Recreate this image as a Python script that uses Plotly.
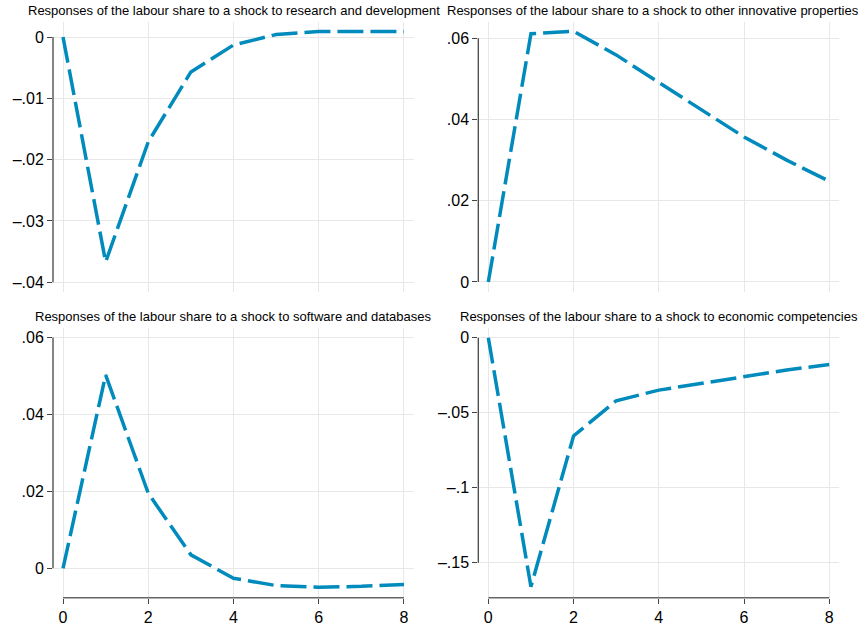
import plotly.graph_objects as go

# ---- data ----
horizon = [0, 1, 2, 3, 4, 5, 6, 7, 8]

rd_response = [0.0, -0.0367, -0.0171, -0.0057, -0.0013, 0.0004, 0.0009, 0.0009, 0.0009]
oip_response = [0.0, 0.0611, 0.0617, 0.0559, 0.0491, 0.0423, 0.0357, 0.0300, 0.0248]
sw_response = [0.0, 0.0503, 0.0195, 0.0035, -0.0026, -0.0045, -0.0049, -0.0047, -0.0042]
ec_response = [0.0, -0.166, -0.0655, -0.042, -0.0349, -0.0304, -0.026, -0.0215, -0.0178]

titles = [
    "Responses of the labour share to a shock to research and development",
    "Responses of the labour share to a shock to other innovative properties",
    "Responses of the labour share to a shock to software and databases",
    "Responses of the labour share to a shock to economic competencies",
]

x_ticks = [0, 2, 4, 6, 8]
x_ticktext = ["0", "2", "4", "6", "8"]

y_ticks = [
    [0, -0.01, -0.02, -0.03, -0.04],
    [0, 0.02, 0.04, 0.06],
    [0, 0.02, 0.04, 0.06],
    [0, -0.05, -0.1, -0.15],
]
y_ticktext = [
    ["0", "\u2013.01", "\u2013.02", "\u2013.03", "\u2013.04"],
    ["0", ".02", ".04", ".06"],
    ["0", ".02", ".04", ".06"],
    ["0", "\u2013.05", "\u2013.1", "\u2013.15"],
]
y_ranges = [
    [-0.0416, 0.00245],
    [-0.00247, 0.0640],
    [-0.00765, 0.0625],
    [-0.1733, 0.0065],
]
x_range = [-0.235, 8.235]

series = [rd_response, oip_response, sw_response, ec_response]

W, H = 862, 625
x_domains = [[53 / W, 414 / W], [478.3 / W, 839.3 / W]]
y_domains = [[1 - 292 / H, 1 - 22 / H], [1 - 597.7 / H, 1 - 328 / H]]

LINE_COLOR = "#008BBC"
GRID = "#e8e8e8"
AXIS = "#444444"
FONT = "Liberation Sans, Arial, Helvetica, sans-serif"

fig = go.Figure()
shapes = []
annotations = []

for i in range(4):
    row, col = divmod(i, 2)
    n = "" if i == 0 else str(i + 1)
    xa, ya = "xaxis" + n, "yaxis" + n
    xref, yref = "x" + n, "y" + n
    bottom = row == 1

    fig.add_trace(go.Scatter(
        x=horizon, y=series[i], mode="lines",
        line=dict(color=LINE_COLOR, width=3.5, dash="26px,7px"),
        xaxis=xref, yaxis=yref, showlegend=False, hoverinfo="skip",
    ))

    fig.layout[xa] = dict(
        domain=x_domains[col], anchor=yref, range=x_range,
        tickvals=x_ticks, ticktext=x_ticktext,
        showticklabels=bottom, ticks="outside" if bottom else "",
        ticklen=5, tickcolor=AXIS, tickwidth=1,
        showgrid=True, gridcolor=GRID, gridwidth=1,
        zeroline=False, showline=False,
        tickfont=dict(family=FONT, size=16, color="#000"),
    )
    fig.layout[ya] = dict(
        domain=y_domains[row], anchor=xref, range=y_ranges[i],
        tickvals=y_ticks[i], ticktext=y_ticktext[i],
        ticks="outside", ticklen=5, tickcolor=AXIS, tickwidth=1,
        showgrid=True, gridcolor=GRID, gridwidth=1,
        zeroline=False, showline=False,
        tickfont=dict(family=FONT, size=16, color="#000"),
    )

    # y axis line spanning the tick range
    shapes.append(dict(
        type="line", xref=xref + " domain", yref=yref,
        x0=0, x1=0, y0=min(y_ticks[i]), y1=max(y_ticks[i]),
        line=dict(color=AXIS, width=1.3), layer="above",
    ))
    if bottom:
        shapes.append(dict(
            type="line", xref=xref, yref=yref + " domain",
            x0=min(x_ticks), x1=max(x_ticks), y0=0, y1=0,
            line=dict(color="#666666", width=1.6), layer="above",
        ))

    cx = (x_domains[col][0] + x_domains[col][1]) / 2
    ty = 1 - (10 if row == 0 else 316) / H
    if i == 1:
        ann_x, anchor = 861 / W, "right"
    else:
        ann_x, anchor = cx, "center"
    annotations.append(dict(
        text=titles[i], xref="paper", yref="paper", x=ann_x, y=ty,
        xanchor=anchor, yanchor="middle", showarrow=False,
        font=dict(family=FONT, size=13, color="#000"),
    ))

fig.update_layout(
    width=W, height=H,
    margin=dict(l=0, r=0, t=0, b=0),
    paper_bgcolor="white", plot_bgcolor="white",
    shapes=shapes, annotations=annotations,
)

fig.write_html("out.html")
